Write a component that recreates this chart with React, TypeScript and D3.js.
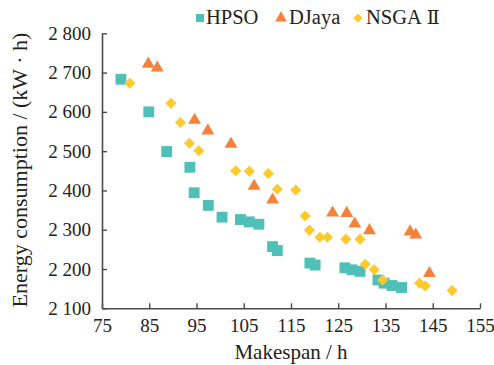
import React, { useEffect, useRef } from 'react';
import * as d3 from 'd3';

// HPSO (teal squares)
const hpsoMakespan = [79.0, 84.9, 88.7, 93.6, 94.5, 97.5, 100.4, 104.3, 106.2, 108.2, 111.1, 112.1, 119.0, 120.1, 126.4, 127.9, 129.6, 133.4, 134.7, 136.4, 138.4];
const hpsoEnergy = [2683, 2600, 2499, 2459, 2394, 2362, 2332, 2326, 2320, 2314, 2257, 2247, 2215, 2210, 2203, 2198, 2194, 2172, 2164, 2158, 2153];

// DJaya (orange triangles)
const djayaMakespan = [84.8, 86.7, 94.6, 97.4, 102.3, 107.2, 111.1, 123.8, 126.8, 128.5, 131.6, 140.2, 141.4, 144.3];
const djayaEnergy = [2722, 2712, 2579, 2552, 2518, 2411, 2376, 2343, 2342, 2315, 2298, 2295, 2287, 2189];

// NSGA II (yellow diamonds)
const nsgaMakespan = [80.9, 89.6, 91.6, 93.5, 95.5, 103.3, 106.2, 110.2, 112.1, 116.0, 118.0, 118.9, 121.1, 122.7, 126.6, 129.6, 130.7, 132.6, 134.4, 142.2, 143.4, 149.1];
const nsgaEnergy = [2673, 2622, 2573, 2520, 2501, 2450, 2449, 2443, 2403, 2401, 2335, 2299, 2281, 2281, 2276, 2276, 2212, 2198, 2172, 2164, 2157, 2145];

const xTicks = [75, 85, 95, 105, 115, 125, 135, 145, 155];
const yTicks = [2100, 2200, 2300, 2400, 2500, 2600, 2700, 2800];

const seriesNames = ['HPSO', 'DJaya', 'NSGA'];
const seriesColors = ['#4fc0b7', '#f5823b', '#fec92a'];

const W = 494;
const H = 365;

const App: React.FC = () => {
	const ref = useRef<SVGSVGElement>(null);

	useEffect(() => {
		if (!ref.current) return;
		const svg = d3.select(ref.current);
		svg.selectAll('*').remove();

		const font = '"Liberation Serif", "Times New Roman", serif';
		const axisColor = '#4a4a4a';

		const x = d3.scaleLinear().domain([75, 155]).range([102, 480]);
		const y = d3.scaleLinear().domain([2100, 2800]).range([308.3, 33.3]);

		const fmt = d3.formatLocale({
			decimal: '.',
			thousands: ' ',
			grouping: [3],
			currency: ['', ''],
		}).format(',');

		// --- Axes --- (ticks point inward)
		const xAxis = svg
			.append('g')
			.attr('transform', `translate(0,${y(2100)})`)
			.call(d3.axisBottom(x).tickValues(xTicks).tickSizeInner(-5).tickSizeOuter(0).tickPadding(10));
		const yAxis = svg
			.append('g')
			.attr('transform', `translate(${x(75)},0)`)
			.call(
				d3
					.axisLeft(y)
					.tickValues(yTicks)
					.tickSizeInner(-5)
					.tickSizeOuter(0)
					.tickPadding(11)
					.tickFormat((d) => fmt(d as number)),
			);

		[xAxis, yAxis].forEach((g) => {
			g.select('.domain').attr('stroke', axisColor).attr('stroke-width', 1.6);
			g.selectAll('.tick line').attr('stroke', axisColor).attr('stroke-width', 1.4);
			g.selectAll('.tick text')
				.attr('fill', '#222')
				.style('font-family', font)
				.style('font-size', '19px');
		});

		// --- Axis titles ---
		svg
			.append('text')
			.attr('x', 291)
			.attr('y', 359)
			.attr('text-anchor', 'middle')
			.attr('fill', '#222')
			.style('font-family', font)
			.style('font-size', '21px')
			.text('Makespan / h');

		svg
			.append('text')
			.attr('transform', `translate(27,170) rotate(-90)`)
			.attr('text-anchor', 'middle')
			.attr('fill', '#222')
			.style('font-family', font)
			.style('font-size', '22px')
			.text('Energy consumption / (kW · h)');

		// --- Points ---
		const square = d3.symbol().type(d3.symbolSquare);
		const tri = d3.symbol().type(d3.symbolTriangle);

		const hpso = hpsoMakespan.map((m, i) => [m, hpsoEnergy[i]]);
		const djaya = djayaMakespan.map((m, i) => [m, djayaEnergy[i]]);
		const nsga = nsgaMakespan.map((m, i) => [m, nsgaEnergy[i]]);

		svg
			.append('g')
			.selectAll('path')
			.data(hpso)
			.enter()
			.append('path')
			.attr('d', square.size(118)())
			.attr('transform', (d) => `translate(${x(d[0])},${y(d[1])})`)
			.attr('fill', seriesColors[0]);

		svg
			.append('g')
			.selectAll('path')
			.data(djaya)
			.enter()
			.append('path')
			.attr('d', tri.size(72)())
			.attr('transform', (d) => `translate(${x(d[0])},${y(d[1])})`)
			.attr('fill', seriesColors[1]);

		svg
			.append('g')
			.selectAll('path')
			.data(nsga)
			.enter()
			.append('path')
			.attr('d', square.size(62)())
			.attr('transform', (d) => `translate(${x(d[0])},${y(d[1])}) rotate(45)`)
			.attr('fill', seriesColors[2]);

		// --- Legend ---
		const legendX = [200, 281, 358];
		const legend = svg
			.append('g')
			.selectAll('g')
			.data(seriesNames)
			.enter()
			.append('g')
			.attr('transform', (d, i) => `translate(${legendX[i]},18)`);

		legend
			.append('path')
			.attr('d', (d, i) =>
				i === 0 ? square.size(64)() : i === 1 ? tri.size(60)() : square.size(42)(),
			)
			.attr('transform', (d, i) => (i === 2 ? 'rotate(45)' : null))
			.attr('fill', (d, i) => seriesColors[i]);

		const labels = legend
			.append('text')
			.attr('x', (d, i) => (i === 0 ? 6 : 8))
			.attr('y', 6)
			.attr('fill', '#222')
			.style('font-family', font)
			.style('font-size', '20.5px')
			.text((d) => d);

		// Roman numeral II, serif glyph from DejaVu Serif
		labels
			.filter((d, i) => i === 2)
			.append('tspan')
			.attr('dx', 5)
			.style('font-family', '"DejaVu Serif", serif')
			.style('font-size', '19px')
			.text('Ⅱ');
	}, []);

	return (
		<svg
			ref={ref}
			width={W}
			height={H}
			style={{ position: 'absolute', left: 0, top: 0, background: '#fff' }}
		/>
	);
};

export default App;
